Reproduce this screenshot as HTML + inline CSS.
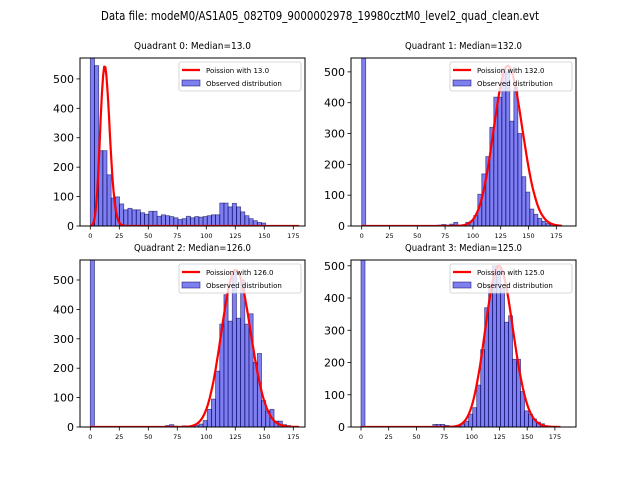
<!DOCTYPE html>
<html><head><meta charset="utf-8"><style>
body{margin:0;background:#fff}
svg{display:block;font-family:"DejaVu Sans","Liberation Sans",sans-serif}
</style></head><body>
<svg id="fig" width="640" height="480" viewBox="0 0 640 480" xmlns="http://www.w3.org/2000/svg">
<rect width="640" height="480" fill="#fff"/>
<text x="320" y="20" text-anchor="middle" font-size="12" textLength="438" lengthAdjust="spacingAndGlyphs">Data file: modeM0/AS1A05_082T09_9000002978_19980cztM0_level2_quad_clean.evt</text>
</svg>
<script>
const binWidth = 3.6;
const q0Counts = [580,545,256,256,174,95,99,75,55,60,55,55,45,40,50,50,33,38,35,32,28,22,25,33,28,32,30,32,35,38,38,78,78,65,77,65,48,35,25,18,12,10];
const q1Counts = [600,0,0,0,0,0,0,0,0,0,0,0,0,0,0,0,0,0,0,3,5,3,6,12,3,4,12,16,34,103,169,225,320,418,418,510,500,340,450,300,160,110,55,38,25,15,8,5];
const q2Counts = [600,0,0,0,0,0,0,0,0,0,0,0,0,0,0,0,0,0,5,8,3,2,4,2,3,5,10,22,60,95,190,350,450,360,530,370,500,350,385,220,250,90,55,60,20,20,8,5];
const q3Counts = [600,0,0,0,0,0,0,0,0,0,0,0,0,0,0,0,0,0,8,8,8,5,3,2,5,10,18,40,60,130,240,370,440,500,500,430,325,345,210,210,110,50,40,25,15,10];
const medians = [13.0,132.0,126.0,125.0];
const poissonPeaks = [545,520,535,500];
const xTicks = [0,25,50,75,100,125,150,175];
const yTicks = [0,100,200,300,400,500];
const titles = ["Quadrant 0: Median=13.0","Quadrant 1: Median=132.0","Quadrant 2: Median=126.0","Quadrant 3: Median=125.0"];

const panels = [
 {L:80,R:305,T:58,B:226,x0:90.3,ppu:1.16,ymax:571,counts:q0Counts},
 {L:351,R:576,T:58,B:226,x0:361.7,ppu:1.112,ymax:545,counts:q1Counts},
 {L:80,R:305,T:260,B:427,x0:90.3,ppu:1.16,ymax:568,counts:q2Counts},
 {L:351,R:576,T:260,B:427,x0:361,ppu:1.108,ymax:518,counts:q3Counts}
];
const widen = 1.12;
const NS="http://www.w3.org/2000/svg";
const svg=document.getElementById('fig');
function mk(tag,attrs,parent){const e=document.createElementNS(NS,tag);for(const k in attrs)e.setAttribute(k,attrs[k]);(parent||svg).appendChild(e);return e;}
function lgamma(z){const g=7,c=[0.99999999999980993,676.5203681218851,-1259.1392167224028,771.32342877765313,-176.61502916214059,12.507343278686905,-0.13857109526572012,9.9843695780195716e-6,1.5056327351493116e-7];
 if(z<0.5)return Math.log(Math.PI/Math.sin(Math.PI*z))-lgamma(1-z);z-=1;let x=c[0];for(let i=1;i<g+2;i++)x+=c[i]/(z+i);const t=z+g+0.5;return 0.5*Math.log(2*Math.PI)+(z+0.5)*Math.log(t)-t+Math.log(x);}
function pois(lam,x){if(x<0)return 0;return Math.exp(-lam+x*Math.log(lam)-lgamma(x+1));}
panels.forEach((p,i)=>{
 const g=mk('g',{});
 
 
 const sx=v=>p.x0+v*p.ppu;
 const sy=v=>p.B-(p.B-p.T)*v/p.ymax;
 const clipId='clip'+i;
 const cp=mk('clipPath',{id:clipId},g);mk('rect',{x:p.L,y:p.T,width:p.R-p.L,height:p.B-p.T},cp);
 const bars=mk('g',{'clip-path':'url(#'+clipId+')'},g);
 p.counts.forEach((c,k)=>{
  if(c<=0)return;
  const r=mk('rect',{x:sx(k*binWidth),y:sy(c),width:binWidth*p.ppu,height:sy(0)-sy(c),fill:'rgba(0,0,230,0.5)',stroke:'rgba(0,0,80,0.6)','stroke-width':0.8},bars);
  
  
 });
 const lam=medians[i];
 let mx=0;for(let x=0;x<=180;x+=0.5)mx=Math.max(mx,pois(lam,x));
 let pts=[];
 for(let x=0;x<=180;x+=1){const xx=lam+(x-lam)/widen;const v=poissonPeaks[i]*pois(lam,xx)/mx;pts.push(sx(x).toFixed(1)+','+sy(v).toFixed(1));}
 const pl=mk('polyline',{points:pts.join(' '),fill:'none',stroke:'#ff0000','stroke-width':2.2,'stroke-linejoin':'round','clip-path':'url(#'+clipId+')'},g);
 
 
 const fr=mk('rect',{x:p.L,y:p.T,width:p.R-p.L,height:p.B-p.T,fill:'none',stroke:'#000','stroke-width':1},g);
 
 
 xTicks.forEach(t=>{const x=sx(t);mk('line',{x1:x,x2:x,y1:p.B,y2:p.B+3.5,stroke:'#000','stroke-width':0.8},g);
  const tx=mk('text',{x:x,y:p.B+12,'font-size':6.5,'text-anchor':'middle'},g);tx.textContent=t;
  
  });
 yTicks.forEach(t=>{if(t>p.ymax)return;const y=sy(t);mk('line',{x1:p.L-3.5,x2:p.L,y1:y,y2:y,stroke:'#000','stroke-width':0.8},g);
  const ty=mk('text',{x:p.L-6,y:y+4,'font-size':11,'text-anchor':'end'},g);ty.textContent=t;
  
  });
 const tt=mk('text',{x:(p.L+p.R)/2,y:p.T-9,'font-size':9.5,'text-anchor':'middle',textLength:117,lengthAdjust:'spacingAndGlyphs'},g);tt.textContent=titles[i];
 
 
 const lg=mk('g',{},g);
 
 
 const lx=p.R-126,ly=p.T+4;
 mk('rect',{x:lx,y:ly,width:122,height:29,fill:'#fff','fill-opacity':0.8,stroke:'#ccc','stroke-width':0.8,rx:2},lg);
 mk('line',{x1:lx+3,x2:lx+21,y1:ly+8,y2:ly+8,stroke:'#ff0000','stroke-width':2.2},lg);
 mk('rect',{x:lx+3,y:ly+18,width:18,height:6,fill:'rgba(0,0,230,0.5)',stroke:'rgba(0,0,80,0.6)','stroke-width':0.8},lg);
 const l1=mk('text',{x:lx+27,y:ly+11,'font-size':7},lg);l1.textContent='Poission with '+medians[i].toFixed(1);
 
 
 const l2=mk('text',{x:lx+27,y:ly+24,'font-size':7},lg);l2.textContent='Observed distribution';
 
 
});
</script>
</body></html>
